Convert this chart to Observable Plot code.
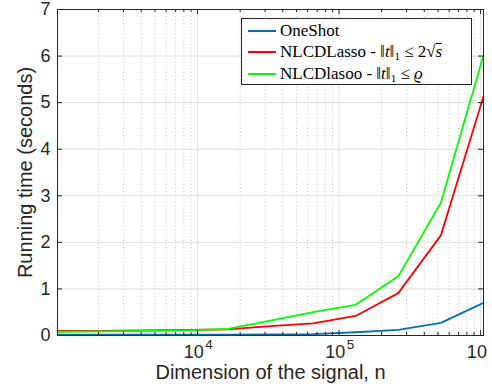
<!DOCTYPE html>
<html><head><meta charset="utf-8">
<script src="https://cdn.jsdelivr.net/npm/d3@7"></script>
<script src="https://cdn.jsdelivr.net/npm/@observablehq/plot@0.6"></script>
<style>
body{margin:0;background:#fff;}
#wrap{position:relative;width:492px;height:389px;}
#legend{position:absolute;left:241px;top:18px;width:229px;height:65px;border:1px solid #262626;background:#fff;
 font-family:"Liberation Serif","Times New Roman",serif;font-size:17px;color:#000;box-sizing:content-box;}
.row{position:absolute;left:0;height:21px;line-height:21px;white-space:nowrap;}
.sw{position:absolute;left:6px;top:10px;width:28px;height:2px;}
.lab{position:absolute;left:38px;top:0;}
.ov{border-top:1px solid #000;padding-top:0px;line-height:15px;display:inline-block;}
sub{font-size:11px;vertical-align:-3px;line-height:0;}
</style>
</head><body>
<div id="wrap"><div id="chart"></div><div id="legend"></div></div>
<script>
const dims = [1024, 2048, 4096, 8192, 16384, 32768, 65536, 131072, 262144, 524288, 1048576];
const oneShot   = [0.02, 0.02, 0.02, 0.02, 0.02, 0.025, 0.03, 0.07, 0.12, 0.27, 0.70];
const nlcdLasso = [0.10, 0.10, 0.11, 0.12, 0.13, 0.20, 0.26, 0.42, 0.91, 2.15, 5.13];
const nlcdLasoo = [0.08, 0.09, 0.10, 0.11, 0.14, 0.32, 0.50, 0.66, 1.27, 2.85, 6.02];
const seriesNames = ["OneShot", "NLCDLasso", "NLCDlasoo"];
const seriesColors = ["#0072BD", "#FF0000", "#00FF00"];
const legendHtml = [
  "OneShot",
  "NLCDLasso - &#8214;<i>t</i>&#8214;<sub>1</sub> &le; 2&radic;<span class='ov'><i>s</i></span>",
  "NLCDlasoo - &#8214;<i>t</i>&#8214;<sub>1</sub> &le; <i>&#1009;</i>"
];
const yTicks = [0, 1, 2, 3, 4, 5, 6, 7];
const xMajor = [1e4, 1e5, 1e6];
const xExponents = ["4", "5", ""];
const xLabel = "Dimension of the signal, n";
const yLabel = "Running time (seconds)";

const xDomain = [1024, 1048576];
const xMinor = [];
for (const k of [3, 4, 5]) for (let m = 2; m <= 9; m++) {
  const v = m * 10 ** k; if (v >= xDomain[0] && v <= xDomain[1]) xMinor.push(v);
}
const series = [oneShot, nlcdLasso, nlcdLasoo];
const data = series.flatMap((vals, s) => dims.map((n, i) => ({n, t: vals[i], s: seriesNames[s]})));

const W = 492, H = 389, mL = 57, mR = 9, mT = 9, mB = 54;
const fw = W - mL - mR, fh = H - mT - mB;
const axisColor = "#262626";

const chart = Plot.plot({
  width: W, height: H, marginLeft: mL, marginRight: mR, marginTop: mT, marginBottom: mB,
  style: {fontFamily: "'Liberation Sans', Arial, sans-serif", background: "#fff", color: axisColor},
  x: {type: "log", domain: xDomain, axis: null},
  y: {domain: [0, 7]},
  color: {domain: seriesNames, range: seriesColors},
  marks: [
    Plot.ruleY(yTicks, {y: d => d, stroke: "#dfdfdf", strokeWidth: 1}),
    Plot.ruleX(xMinor, {x: d => d, stroke: "#c8c8c8", strokeWidth: 1, strokeDasharray: "1,2.5"}),
    Plot.ruleX(xMajor, {x: d => d, stroke: "#dfdfdf", strokeWidth: 1}),
    Plot.line(data, {x: "n", y: "t", z: "s", stroke: "s", strokeWidth: 1.8, strokeLinejoin: "round"}),
    Plot.frame({stroke: axisColor, strokeWidth: 1}),
    Plot.tickY(yTicks, {y: d => d, insetRight: fw - 5, stroke: axisColor}),
    Plot.tickY(yTicks, {y: d => d, insetLeft: fw - 5, stroke: axisColor}),
    Plot.tickX(xMajor, {x: d => d, insetTop: fh - 5, stroke: axisColor}),
    Plot.tickX(xMajor, {x: d => d, insetBottom: fh - 5, stroke: axisColor}),
    Plot.tickX(xMinor, {x: d => d, insetTop: fh - 3, stroke: axisColor}),
    Plot.tickX(xMinor, {x: d => d, insetBottom: fh - 3, stroke: axisColor}),
    Plot.axisY({ticks: yTicks, tickSize: 0, tickPadding: 7, fontSize: 18, label: null, tickFormat: d => String(d)}),
    Plot.text(xMajor, {x: d => d, frameAnchor: "bottom", dy: 22, dx: -3.7, text: () => "10", fontSize: 18, fill: axisColor}),
    Plot.text(xMajor, {x: d => d, frameAnchor: "bottom", dy: 13, dx: 11.5, text: (d, i) => xExponents[i], fontSize: 13.5, fill: axisColor}),
    Plot.text([xLabel], {frameAnchor: "bottom", dy: 43, text: d => d, fontSize: 20, fill: axisColor, textAnchor: "middle"}),
    Plot.text([yLabel], {frameAnchor: "left", dx: -32, rotate: -90, text: d => d, fontSize: 20, fill: axisColor, textAnchor: "middle"})
  ]
});
document.getElementById("chart").appendChild(chart);

const legend = document.getElementById("legend");
seriesNames.forEach((name, i) => {
  const row = document.createElement("div");
  row.className = "row";
  row.style.top = (1 + i * 21.3) + "px";
  row.style.width = "100%";
  row.innerHTML = `<div class="sw" style="background:${seriesColors[i]}"></div><div class="lab">${legendHtml[i]}</div>`;
  legend.appendChild(row);
});
</script>
</body></html>
